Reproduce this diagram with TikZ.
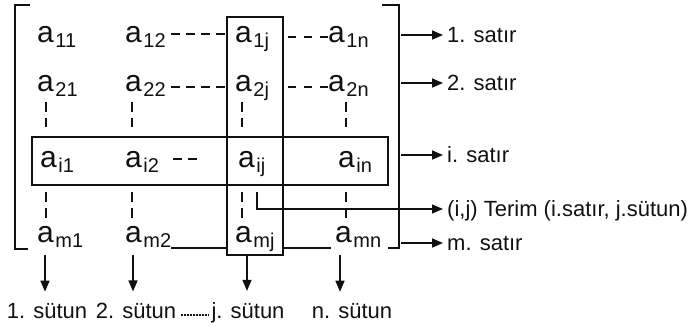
\documentclass[tikz,border=0pt]{standalone}
\usepackage{fontspec}
\setmainfont{Liberation Sans}
\usetikzlibrary{positioning,arrows.meta,calc}
\definecolor{ink}{HTML}{111111}
\newcommand{\ent}[1]{a\kern1.5pt\raisebox{-5pt}{\fontsize{20}{20}\selectfont #1}}
\tikzset{
  elem/.style={anchor=base west, inner sep=0pt, font=\fontsize{30}{30}\selectfont, text=ink},
  frame/.style={draw=ink, line width=2.5pt, inner sep=0pt},
  brk/.style={draw=ink, line width=2.8pt},
  ar/.style={-{Triangle[length=11pt,width=9pt]}, line width=1.6pt, draw=ink},
  ptr/.style={ar, line width=1.1pt},
  dsh/.style={draw=ink, line width=2pt, dash pattern=on 9pt off 6pt},
  vd/.style={draw=ink, line width=2.4pt, dash pattern=on 10pt off 6pt},
  bar/.style={draw=ink, line width=2pt},
  lbl/.style={anchor=west, inner sep=0pt, text height=16pt, text depth=0pt,
              font=\fontsize{22}{22}\selectfont, text=ink},
  col/.style={anchor=base, inner sep=0pt, font=\fontsize{22}{22}\selectfont, text=ink},
}

\begin{document}
\begin{tikzpicture}[x=1pt, y=-1pt]
\useasboundingbox (0,0) rectangle (697,326);

% --- ENTRIES ---
\node[elem] (a11) at (37,43) {\ent{11}};
\node[elem] (a12) at (125,43) {\ent{12}};
\node[elem] (a1j) at (235,43) {\ent{1j}};
\node[elem] (a1n) at (328,43) {\ent{1n}};

\node[elem] (a21) at (37,92) {\ent{21}};
\node[elem] (a22) at (125,92) {\ent{22}};
\node[elem] (a2j) at (235,92) {\ent{2j}};
\node[elem] (a2n) at (328,92) {\ent{2n}};

\node[elem] (ai1) at (40,168) {\ent{i1}};
\node[elem] (ai2) at (125,168) {\ent{i2}};
\node[elem] (aij) at (238,168) {\ent{ij}};
\node[elem] (ain) at (338,168) {\ent{in}};

\node[elem] (am1) at (37,243) {\ent{m1}};
\node[elem] (am2) at (125,243) {\ent{m2}};
\node[elem] (amj) at (235,243) {\ent{mj}};
\node[elem] (amn) at (335,243) {\ent{mn}};

% --- FRAMES ---
\node[frame, minimum width=56pt, minimum height=238pt] (colj) at (255,136) {};
\node[frame, minimum width=356pt, minimum height=48pt] (rowi) at (210,161) {};

\draw[brk] (30,5) -- (15,5) -- (15,249) -- (28,249);
\draw[brk] (382,5) -- (399,5) -- (399,248) -- (388,248);
\coordinate (rb) at (399,0);

% --- DOTS ---
\draw[dsh, shorten <=5pt] ([yshift=9pt]a12.base east) -- ([yshift=9pt]a12.base east -| colj.west);
\draw[dsh, dash pattern=on 8pt off 8pt, shorten <=4pt] ([yshift=6pt]a1n.base west -| colj.east) -- ([yshift=6pt]a1n.base west);
\draw[dsh, shorten <=5pt] ([yshift=5pt]a22.base east) -- ([yshift=5pt]a22.base east -| colj.west);
\draw[dsh, dash pattern=on 8pt off 8pt, shorten <=4pt] ([yshift=5pt]a2n.base west -| colj.east) -- ([yshift=5pt]a2n.base west);
\draw[dsh] ([xshift=14pt,yshift=9pt]ai2.base east) -- ([xshift=38pt,yshift=9pt]ai2.base east);

\coordinate (k1) at (46,0);
\coordinate (k2) at (132,0);
\coordinate (kj) at (242,0);
\coordinate (kn) at (346,0);
\foreach \k/\up/\dn in {k1/a21/am1, k2/a22/am2, kj/a2j/amj, kn/a2n/amn} {
  \draw[vd, shorten <=10pt, shorten >=9pt] (\up.base -| \k) -- (rowi.north -| \k);
  \draw[vd, shorten <=6pt, shorten >=25pt] (rowi.south -| \k) -- (\dn.base -| \k);
}

\draw[bar] ([yshift=-5pt]am2.base east) -- ([yshift=-5pt]am2.base east -| colj.west);
\draw[bar, shorten >=4pt] ([yshift=-5pt]amn.base west -| colj.east) -- ([yshift=-5pt]amn.base west);

% --- ROWS ---
\node[lbl] (r1) at (447,35) {1. satır};
\node[lbl] (r2) at (447,83) {2. satır};
\node[lbl] (ri) at (447,155) {i. satır};
\node[lbl] (term) at (447,209) {(i,j) Terim (i.satır, j.sütun)};
\node[lbl] (rm) at (447,243) {m. satır};

\foreach \r in {r1, r2, ri, rm}
  \draw[ar, shorten <=2pt, shorten >=4pt] (\r.west -| rb) -- (\r.west);
\draw[ptr, shorten >=4pt] ([xshift=19pt,yshift=-24pt]aij.base west) |- (term.west);

% --- COLUMNS ---
\node[col] (c1) at (47,318) {1. sütun};
\node[col] (c2) at (136,318) {2. sütun};
\node[col] (cj) at (248,318) {j. sütun};
\node[col] (cn) at (352,318) {n. sütun};

\coordinate (d1) at (45,255);
\coordinate (d2) at (133,255);
\coordinate (dj) at (247,255);
\coordinate (dn) at (340,255);
\foreach \d/\c in {d1/c1, d2/c2, dj/cj, dn/cn}
  \draw[ar, shorten >=11pt] (\d) -- (\d |- \c.north);

\draw[bar, line width=1.8pt, dash pattern=on 2pt off 1pt, shorten <=5pt, shorten >=2pt]
  ([yshift=3pt]c2.base east) -- ([yshift=3pt]cj.base west);

\end{tikzpicture}
\end{document}
